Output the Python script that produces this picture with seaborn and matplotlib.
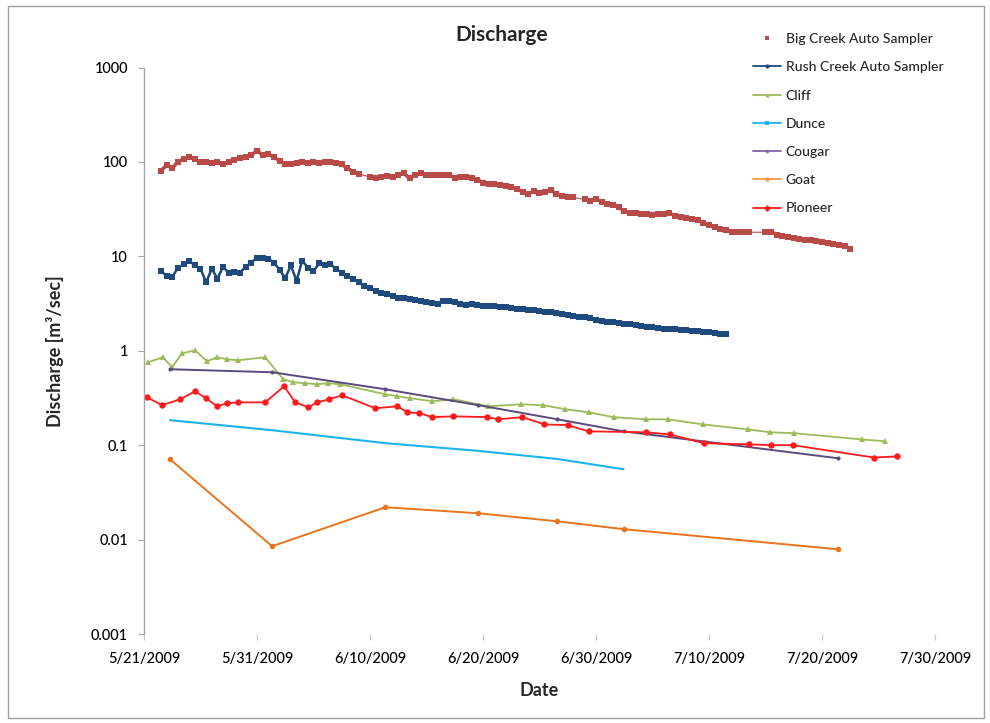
import numpy as np
import pandas as pd
import matplotlib
matplotlib.use("Agg")
import matplotlib.pyplot as plt
from matplotlib.lines import Line2D
from matplotlib.patches import Rectangle
import seaborn as sns

# ---------------------------------------------------------------- data
START = pd.Timestamp("2009-05-21")

# Auto samplers: readings every 12 h starting 5/22/2009 12:00 (NaN = no reading)
big_creek = [
    81, 92, 86, 100, 108, 113, 108, 99, 101, 97, 100, 96, 100, 104, 110, 114,
    118, 132, 118, 122, 112, 103, 96, 94, 97, 99, 97, 100, 98, 99, 100, 97,
    94, 86, 79, 75, np.nan, 69, 67, 69, 71, 70, 72, 76, 67, 72, 77, 73,
    72, 72, 73, 72, 68, 69, 70, 67, 65, 60, 59, 58, 57, 56, 54, 52,
    48, 46, 49, 47, 48, 50, 46, 44, 42, 42, np.nan, 40, 39, 40, 38, 36,
    35, 33, 30, 29, 28.5, 28, 28, 27.5, 28, 28, 28.5, 27, 26, 25.5, 25, 24,
    22.5, 21.5, 20.5, 19.5, 19, 18.3, 18, 18, 18, np.nan, np.nan, 18, 18.2, 17, 16.5, 16,
    15.6, 15.3, 15, 14.8, 14.5, 14.2, 14, 13.6, 13.3, 13, 12,
]
rush_creek = [
    7.0, 6.2, 6.0, 7.6, 8.2, 9.0, 8.0, 7.4, 5.3, 7.4, 5.8, 7.8, 6.6, 6.8, 6.7, 7.8,
    8.6, 9.7, 9.6, 9.4, 8.6, 7.2, 5.9, 8.0, 5.5, 9.0, 7.6, 7.0, 8.4, 8.0, 8.2, 7.4,
    6.7, 6.2, 5.8, 5.3, 4.9, 4.6, 4.3, 4.1, 3.95, 3.8, 3.65, 3.6, 3.5, 3.45, 3.4, 3.3,
    3.2, 3.15, 3.35, 3.4, 3.25, 3.15, 3.05, 3.1, 3.05, 3.0, 2.95, 2.95, 2.9, 2.9, 2.85, 2.8,
    2.8, 2.72, 2.68, 2.64, 2.6, 2.55, 2.5, 2.45, 2.4, 2.35, 2.3, 2.25, 2.2, 2.12, 2.08, 2.04,
    2.0, 1.98, 1.94, 1.9, 1.86, 1.83, 1.8, 1.77, 1.75, 1.72, 1.7, 1.68, 1.66, 1.64, 1.62, 1.6,
    1.58, 1.57, 1.55, 1.52, 1.5,
]

# Grab samples: sampling time in days after 5/21/2009
cliff_days = [0.35, 1.68, 2.48, 3.37, 4.52, 5.58, 6.47, 7.35, 8.33, 10.72, 12.32, 13.2,
              14.27, 15.33, 16.3, 17.37, 21.35, 22.42, 23.57, 25.52, 27.38, 30.48, 33.4,
              35.35, 37.3, 39.34, 41.55, 44.39, 46.34, 49.44, 53.43, 55.38, 57.51, 63.53, 65.57]
cliff = [0.755, 0.853, 0.668, 0.94, 1.01, 0.774, 0.853, 0.813, 0.793, 0.853, 0.499, 0.464,
         0.453, 0.442, 0.453, 0.442, 0.346, 0.33, 0.314, 0.292, 0.306, 0.258, 0.271,
         0.265, 0.24, 0.223, 0.198, 0.188, 0.188, 0.166, 0.147, 0.137, 0.134, 0.115, 0.11]

pioneer_days = [0.27, 1.59, 3.19, 4.52, 5.49, 6.47, 7.35, 8.33, 10.72, 12.4, 13.38, 14.53,
                15.33, 16.39, 17.54, 20.47, 22.42, 23.3, 24.37, 25.52, 27.38, 30.39, 31.37,
                33.49, 35.44, 37.48, 39.34, 44.39, 46.52, 49.53, 53.52, 55.47, 57.42, 64.59, 66.63]
pioneer = [0.322, 0.265, 0.306, 0.372, 0.314, 0.258, 0.278, 0.284, 0.284, 0.421, 0.284, 0.252,
           0.284, 0.306, 0.338, 0.246, 0.258, 0.223, 0.218, 0.198, 0.202, 0.198, 0.188,
           0.198, 0.166, 0.163, 0.14, 0.137, 0.13, 0.105, 0.102, 0.1, 0.1, 0.074, 0.076]

# Dunce, Cougar and Goat were visited on the same days
site_days = [2.3, 11.34, 21.35, 29.59, 36.58, 42.44, 61.4]
dunce = [0.184, 0.144, 0.105, 0.087, 0.0714, 0.0556]
cougar = [0.637, 0.592, 0.391, 0.265, 0.188, 0.14, 0.0727]
goat = [0.0709, 0.0085, 0.022, 0.019, 0.0156, 0.0129, 0.0079]

y_ticks = [0.001, 0.01, 0.1, 1, 10, 100, 1000]
y_labels = ["0.001", "0.01", "0.1", "1", "10", "100", "1000"]
x_labels = ["5/21/2009", "5/31/2009", "6/10/2009", "6/20/2009",
            "6/30/2009", "7/10/2009", "7/20/2009", "7/30/2009"]
legend_labels = ["Big Creek Auto Sampler", "Rush Creek Auto Sampler", "Cliff", "Dunce",
                 "Cougar", "Goat", "Pioneer"]


# ---------------------------------------------------------------- helpers
def days_to_dates(days):
    return START + pd.to_timedelta(np.asarray(days, dtype=float), unit="D")


def half_daily(values):
    return pd.date_range("2009-05-22 12:00", periods=len(values), freq="12h")


FONT = "Lato"
sns.set_theme(style="white")
plt.rcParams["font.family"] = [FONT, "DejaVu Sans"]

fig = plt.figure(figsize=(9.9, 7.23), dpi=100)
ax = fig.add_axes([144 / 990, 1 - 634 / 723, (935 - 144) / 990, (634 - 67.5) / 723])

# colours
C_BIG = "#B84A47"
C_RUSH = "#1F4A7E"
C_CLIFF = "#9BBB59"
C_DUNCE = "#1CB4EE"
C_COUGAR = "#5B4A7E"
C_GOAT = "#E8741C"
C_PIONEER = "#FF1A1A"


def sampler(values, color, band_width, thin_width, msize):
    dates = half_daily(values)
    # dense band where readings are consecutive
    ax.plot(dates, values, color=color, linewidth=band_width, solid_capstyle="butt", zorder=2)
    d = pd.DataFrame({"date": dates, "q": values}).dropna()
    sns.lineplot(data=d, x="date", y="q", ax=ax, color=color, linewidth=thin_width,
                 marker="s", markersize=msize, markeredgewidth=0, markeredgecolor=color,
                 estimator=None, sort=False, zorder=3)


sampler(big_creek, C_BIG, 2.6, 0.8, 4.2)
sampler(rush_creek, C_RUSH, 1.8, 1.0, 4.0)


def site(days, values, color, lw, marker, ms):
    d = pd.DataFrame({"date": days_to_dates(days[:len(values)]), "q": values})
    sns.lineplot(data=d, x="date", y="q", ax=ax, color=color, linewidth=lw,
                 marker=marker, markersize=ms, markeredgewidth=0, markeredgecolor=color,
                 estimator=None, sort=False)


site(cliff_days, cliff, C_CLIFF, 1.3, "^", 4.5)
site(site_days, dunce, C_DUNCE, 1.5, None, 0)
site(site_days, cougar, C_COUGAR, 1.4, "o", 3.0)
site(site_days, goat, C_GOAT, 1.4, "o", 4.0)
site(pioneer_days, pioneer, C_PIONEER, 1.3, "o", 4.6)

# ---------------------------------------------------------------- axes
ax.set_yscale("log")
ax.set_ylim(0.001, 1000)
ax.set_yticks(y_ticks)
ax.set_yticklabels(y_labels)
ax.yaxis.set_minor_locator(matplotlib.ticker.NullLocator())

x_ticks = pd.date_range("2009-05-21", periods=len(x_labels), freq="10D")
ax.set_xlim(x_ticks[0], x_ticks[-1])
ax.set_xticks(x_ticks)
ax.set_xticklabels(x_labels)

for side in ("top", "right", "bottom"):
    ax.spines[side].set_visible(False)
ax.spines["left"].set_color("#A6A6A6")
ax.spines["left"].set_linewidth(1.0)

ax.tick_params(axis="y", which="major", direction="out", length=4.5, width=0.8,
               color="#A6A6A6", pad=7, labelsize=10.5, labelcolor="black", left=True)
ax.tick_params(axis="x", which="major", direction="out", length=4, width=0.8,
               color="#C8C8C8", pad=9, labelsize=10.5, labelcolor="black", bottom=True)
for lab in ax.get_xticklabels() + ax.get_yticklabels():
    lab.set_fontweight("medium")

ax.set_xlabel("Date", fontsize=13, fontweight="bold")
ax.set_ylabel("Discharge [m\u00b3/sec]", fontsize=13, fontweight="bold")
ax.yaxis.set_label_coords(-(144 - 64) / 791, 0.5)
ax.xaxis.set_label_coords(0.5, -(682 - 634) / 566.5)

fig.text(502 / 990, 1 - 35 / 723, "Discharge", ha="center", va="center",
         fontsize=15, fontweight="bold")

# ---------------------------------------------------------------- legend
handles = [
    Line2D([], [], color=C_BIG, linestyle="none", marker="s", markersize=3.5, markeredgewidth=0),
    Line2D([], [], color=C_RUSH, linewidth=1.3, marker="o", markersize=3, markeredgewidth=0),
    Line2D([], [], color=C_CLIFF, linewidth=1.3, marker="^", markersize=3, markeredgewidth=0),
    Line2D([], [], color=C_DUNCE, linewidth=1.3, marker="s", markersize=2.5, markeredgewidth=0),
    Line2D([], [], color="#8064A2", linewidth=1.3, marker="o", markersize=2.5, markeredgewidth=0),
    Line2D([], [], color="#F79646", linewidth=1.3, marker="o", markersize=3, markeredgewidth=0),
    Line2D([], [], color=C_PIONEER, linewidth=1.3, marker="D", markersize=3.5, markeredgewidth=0),
]
leg = fig.legend(handles, legend_labels, loc="upper left",
                 bbox_to_anchor=(753 / 990, 1 - 33 / 723), frameon=False,
                 handlelength=2.0, handletextpad=0.35, labelspacing=1.17,
                 prop={"family": FONT, "size": 10, "weight": "medium"},
                 borderaxespad=0, borderpad=0)

# chart area frame
fig.patches.append(Rectangle((8 / 990, 1 - 718 / 723), (984 - 8) / 990, (718 - 6) / 723,
                             transform=fig.transFigure, fill=False,
                             edgecolor="#A0A0A0", linewidth=1.0))

fig.savefig("out.png", dpi=100)
